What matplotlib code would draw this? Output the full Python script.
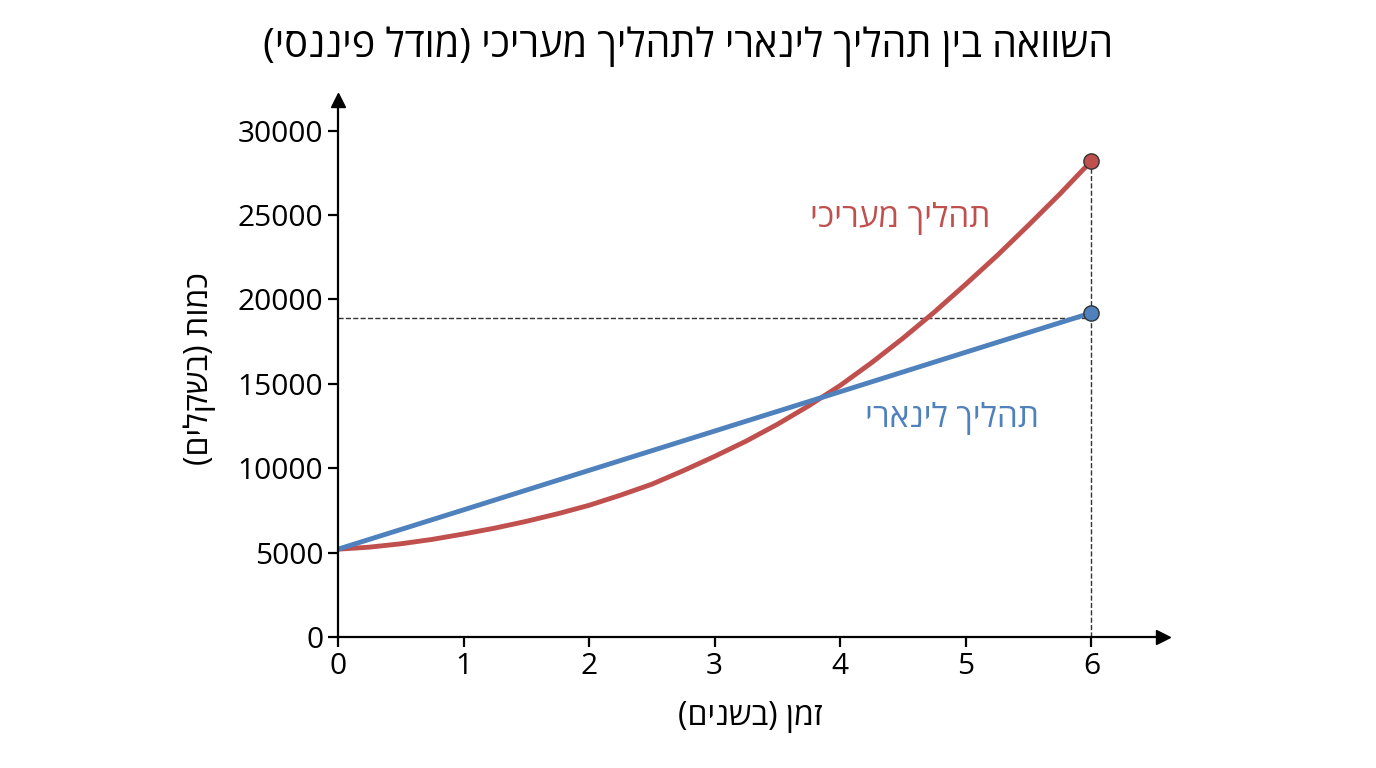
import matplotlib
matplotlib.use("Agg")
import matplotlib.pyplot as plt

plt.rcParams['font.family'] = ['Open Sans', 'DejaVu Sans']

def vis(s):
    # matplotlib has no bidi support: lay out RTL text visually
    return s[::-1].translate(str.maketrans("()", ")("))

title = "השוואה בין תהליך לינארי לתהליך מעריכי (מודל פיננסי)"
xlabel = "זמן (בשנים)"
ylabel = "כמות (בשקלים)"
lab_exp = "תהליך מעריכי"
lab_lin = "תהליך לינארי"

years_lin = [0, 1, 2, 3, 4, 5, 6]
linear = [5200, 7530, 9870, 12200, 14530, 16870, 19200]
years_exp = [0, 0.25, 0.5, 0.75, 1, 1.25, 1.5, 1.75, 2, 2.25, 2.5, 2.75, 3,
             3.25, 3.5, 3.75, 4, 4.25, 4.5, 4.75, 5, 5.25, 5.5, 5.75, 6]
expo = [5200, 5320, 5520, 5780, 6100, 6450, 6850, 7300, 7800, 8400, 9050, 9850, 10700,
        11600, 12600, 13700, 14900, 16250, 17700, 19250, 20900, 22600, 24400, 26250, 28200]
hline_y = 18900

red = "#c0504d"
blue = "#4f81bd"

fig = plt.figure(figsize=(13.76, 7.68), dpi=100)
ax = fig.add_axes([0.2456, 0.1706, 0.5996, 0.699])
ax.set_xlim(0, 6.57)
ax.set_ylim(0, 31800)
for s in ['top', 'right']:
    ax.spines[s].set_visible(False)
for s in ['left', 'bottom']:
    ax.spines[s].set_linewidth(1.6)
ax.plot(1, 0, ">k", transform=ax.get_yaxis_transform(), clip_on=False, ms=10)
ax.plot(0, 1, "^k", transform=ax.get_xaxis_transform(), clip_on=False, ms=10)

ax.plot([0, 6], [hline_y, hline_y], ls='--', color='#333333', lw=1)
ax.plot([6, 6], [0, expo[-1]], ls='--', color='#333333', lw=1)

ax.plot(years_exp, expo, color=red, lw=3.5, solid_capstyle='round', solid_joinstyle='round')
ax.plot(years_lin, linear, color=blue, lw=3.5, solid_capstyle='round')
ax.plot(6, expo[-1], 'o', color=red, mec='#333333', ms=11, zorder=5)
ax.plot(6, linear[-1], 'o', color=blue, mec='#333333', ms=11, zorder=5)

ax.text(4.48, 24800, vis(lab_exp), color=red, fontsize=24, ha='center', va='center')
ax.text(4.89, 12960, vis(lab_lin), color=blue, fontsize=24, ha='center', va='center')

ax.set_xticks(range(0, 7))
ax.set_yticks(range(0, 30001, 5000))
ax.tick_params(labelsize=21.5, width=1.6, length=7)
ax.set_xlabel(vis(xlabel), fontsize=23, labelpad=14)
ax.set_ylabel(vis(ylabel), fontsize=23, labelpad=16)
fig.suptitle(vis(title), fontsize=28.5, y=0.965)

fig.savefig("out.png", dpi=100)
